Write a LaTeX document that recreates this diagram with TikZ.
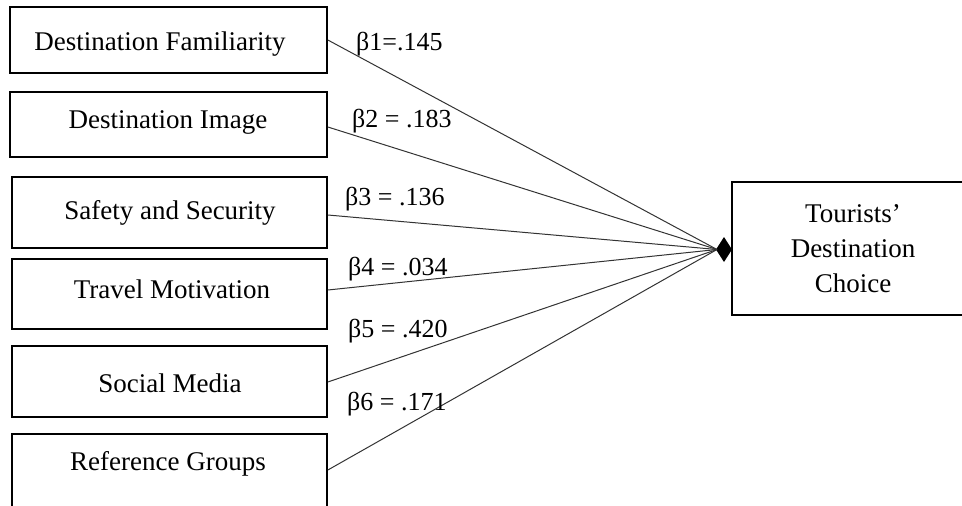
\documentclass[tikz,border=0pt]{standalone}
\usepackage{fontspec}
\setmainfont{Liberation Serif}
\begin{document}
\begin{tikzpicture}[x=1pt,y=-1pt,
  box/.style={draw=black, line width=1.7pt, inner sep=0pt},
  txt/.style={font=\fontsize{27}{35}\selectfont, inner sep=0pt, anchor=base},
  lbl/.style={font=\fontsize{26}{30}\selectfont, inner sep=0pt, anchor=base west},
  link/.style={draw=black!80, line width=1pt}]
\clip (0,0) rectangle (962,506);
% left boxes
\node[box, minimum width=317, minimum height=66] (b1) at (168.5,40) {};
\node[box, minimum width=317, minimum height=65] (b2) at (168.5,124.5) {};
\node[box, minimum width=315, minimum height=71] (b3) at (169.5,212.5) {};
\node[box, minimum width=315, minimum height=70] (b4) at (169.5,294) {};
\node[box, minimum width=315, minimum height=71] (b5) at (169.5,381.5) {};
\node[box, minimum width=315, minimum height=100] (b6) at (169.5,484) {};
% box texts
\node[txt] (t1) at (160,50) {Destination Familiarity};
\node[txt] (t2) at (168,128) {Destination Image};
\node[txt] (t3) at (170,219) {Safety and Security};
\node[txt] (t4) at (172,298) {Travel Motivation};
\node[txt] (t5) at (170,392) {Social Media};
\node[txt] (t6) at (168,470) {Reference Groups};
% right box
\node[box, minimum width=260, minimum height=133] (r) at (862,248.5) {};
\node[font=\fontsize{27}{35}\selectfont, align=center, inner sep=0pt] (rt) at (853,249) {Tourists’\\Destination\\Choice};
% convergence point and diamond head
\coordinate (conv) at (717,249.5);
\fill[black] (716,249.5) -- (724,237) -- (732,249.5) -- (724,262) -- cycle;
% connectors
\draw[link] (b1.east) -- (conv);
\draw[link] ([yshift=-2.5pt]b2.east) -- (conv);
\draw[link] ([yshift=-2.5pt]b3.east) -- (conv);
\draw[link] ([yshift=4pt]b4.east) -- (conv);
\draw[link] ([yshift=-0.5pt]b5.east) -- (conv);
\draw[link] ([yshift=14pt]b6.east) -- (conv);
% labels
\node[lbl] (l1) at (356,50) {β1=.145};
\node[lbl] (l2) at (352,127) {β2 = .183};
\node[lbl] (l3) at (345,205) {β3 = .136};
\node[lbl] (l4) at (348,275) {β4 = .034};
\node[lbl] (l5) at (348,337) {β5 = .420};
\node[lbl] (l6) at (347,410) {β6 = .171};
\end{tikzpicture}
\end{document}
